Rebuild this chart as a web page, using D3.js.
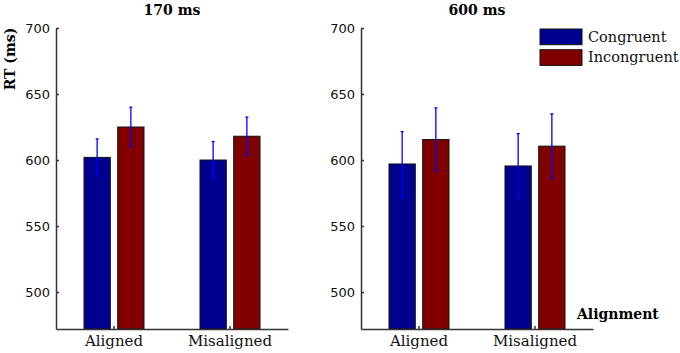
<!DOCTYPE html>
<html>
<head>
<meta charset="utf-8">
<script src="https://cdn.jsdelivr.net/npm/d3@7"></script>
<style>
  body { margin: 0; background: #fff; }
  svg { display: block; }
</style>
</head>
<body>
<svg></svg>
<script>
var panels = ["170 ms", "600 ms"];
var categories = ["Aligned", "Misaligned"];
var conditions = ["Congruent", "Incongruent"];
var yTicks = [500, 550, 600, 650, 700];

// means and error bars, [Aligned, Misaligned]
var congruent170 = [602, 600];
var incongruent170 = [625, 618];
var congruentErr170 = [14, 14];
var incongruentErr170 = [15, 14.5];

var congruent600 = [597, 595.5];
var incongruent600 = [615.5, 610.5];
var congruentErr600 = [24.5, 24.5];
var incongruentErr600 = [24, 24.5];

var colors = {Congruent: "#00008f", Incongruent: "#800000"};

var svgWidth = 680, svgHeight = 353;
var svg = d3.select("svg")
    .attr("width", svgWidth)
    .attr("height", svgHeight);

var yScale = d3.scaleLinear()
    .domain([472, 700])
    .range([329, 28]);

function rows(cong, incong, congErr, incongErr) {
    var out = [];
    categories.forEach(function(c, i) {
        out.push({cat: c, cond: "Congruent", v: cong[i], e: congErr[i]});
        out.push({cat: c, cond: "Incongruent", v: incong[i], e: incongErr[i]});
    });
    return out;
}

var panelData = [
    rows(congruent170, incongruent170, congruentErr170, incongruentErr170),
    rows(congruent600, incongruent600, congruentErr600, incongruentErr600)
];
var panelLeft = [56, 361];
var panelWidth = 232;

panels.forEach(function(title, p) {
    var x0 = d3.scaleBand()
        .domain(categories)
        .range([panelLeft[p], panelLeft[p] + panelWidth]);
    var x1 = d3.scaleBand()
        .domain(conditions)
        .range([-30, 30])
        .paddingInner(0.22);

    var g = svg.append("g");

    g.selectAll("rect.bar")
        .data(panelData[p])
        .enter()
        .append("rect")
        .attr("class", "bar")
        .attr("x", function(d) { return x0(d.cat) + x0.bandwidth() / 2 + x1(d.cond); })
        .attr("width", x1.bandwidth())
        .attr("y", function(d) { return yScale(d.v); })
        .attr("height", function(d) { return yScale.range()[0] - yScale(d.v); })
        .attr("fill", function(d) { return colors[d.cond]; })
        .attr("stroke", "#111")
        .attr("stroke-width", 1);

    // error bars
    var eb = g.selectAll("g.err")
        .data(panelData[p])
        .enter()
        .append("g")
        .attr("class", "err")
        .attr("stroke", "#0000ff")
        .attr("stroke-width", 1.3)
        .attr("transform", function(d) {
            return "translate(" + (x0(d.cat) + x0.bandwidth() / 2 + x1(d.cond) + x1.bandwidth() / 2) + ",0)";
        });
    eb.append("line")
        .attr("y1", function(d) { return yScale(d.v - d.e); })
        .attr("y2", function(d) { return yScale(d.v + d.e); });
    eb.append("line")
        .attr("x1", -1.5).attr("x2", 1.5)
        .attr("y1", function(d) { return yScale(d.v + d.e); })
        .attr("y2", function(d) { return yScale(d.v + d.e); });
    eb.append("line")
        .attr("x1", -1.5).attr("x2", 1.5)
        .attr("y1", function(d) { return yScale(d.v - d.e); })
        .attr("y2", function(d) { return yScale(d.v - d.e); });

    var yAxis = g.append("g")
        .attr("transform", "translate(" + panelLeft[p] + ",0)")
        .call(d3.axisLeft(yScale).tickValues(yTicks).tickSizeInner(-3).tickSizeOuter(0).tickPadding(6));
    yAxis.selectAll("text")
        .attr("font-family", "DejaVu Sans")
        .attr("font-size", "13px")
        .attr("fill", "#111");

    var xAxis = g.append("g")
        .attr("transform", "translate(0," + yScale.range()[0] + ")")
        .call(d3.axisBottom(x0).tickSizeInner(-3).tickSizeOuter(0).tickPadding(6));
    xAxis.selectAll("text")
        .attr("font-family", "DejaVu Serif")
        .attr("font-size", "15px")
        .attr("fill", "#111");

    g.selectAll(".domain, .tick line")
        .attr("stroke", "#333")
        .attr("stroke-width", 1.5);

    g.append("text")
        .attr("x", panelLeft[p] + panelWidth / 2)
        .attr("y", 15)
        .attr("text-anchor", "middle")
        .attr("font-family", "DejaVu Serif")
        .attr("font-weight", "bold")
        .attr("font-size", "14px")
        .text(title);
});

svg.append("text")
    .attr("transform", "translate(15,59) rotate(-90)")
    .attr("text-anchor", "middle")
    .attr("font-family", "DejaVu Serif")
    .attr("font-weight", "bold")
    .attr("font-size", "14px")
    .text("RT (ms)");

svg.append("text")
    .attr("x", 577)
    .attr("y", 319)
    .attr("font-family", "DejaVu Serif")
    .attr("font-weight", "bold")
    .attr("font-size", "14px")
    .text("Alignment");

// legend
var legend = svg.selectAll("g.legend")
    .data(conditions)
    .enter()
    .append("g")
    .attr("class", "legend")
    .attr("transform", function(d, i) { return "translate(540," + (29 + i * 20.7) + ")"; });
legend.append("rect")
    .attr("width", 42)
    .attr("height", 15.7)
    .attr("fill", function(d) { return colors[d]; })
    .attr("stroke", "#111")
    .attr("stroke-width", 1);
legend.append("text")
    .attr("x", 48)
    .attr("y", 12.5)
    .attr("font-family", "DejaVu Serif")
    .attr("font-size", "14.5px")
    .attr("fill", "#111")
    .text(function(d) { return d; });
</script>
</body>
</html>
